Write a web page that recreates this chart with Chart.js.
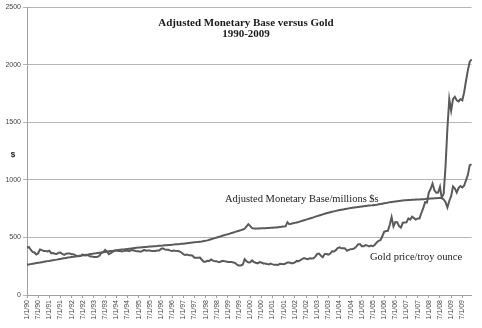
<!DOCTYPE html>
<html>
<head>
<meta charset="utf-8">
<script src="https://cdn.jsdelivr.net/npm/chart.js@4/dist/chart.umd.min.js"></script>
<style>
  body { margin: 0; background: #fff; }
  #wrap { width: 482px; height: 328px; }
</style>
</head>
<body>
<div id="wrap"><canvas id="goldChart"></canvas></div>
<script>
// monthly series, Jan 1990 .. Dec 2009
const years = ['90','91','92','93','94','95','96','97','98','99','00','01','02','03','04','05','06','07','08','09'];

const gold = [
  410, 417, 393, 374, 369, 352, 362, 395, 389, 381, 382, 378,
  384, 363, 364, 358, 357, 367, 368, 356, 349, 359, 360, 361,
  354, 354, 345, 338, 337, 341, 353, 343, 345, 344, 335, 334,
  329, 330, 331, 342, 367, 372, 392, 379, 355, 364, 374, 383,
  387, 382, 384, 378, 381, 386, 385, 380, 391, 389, 384, 379,
  379, 376, 382, 391, 385, 387, 386, 383, 383, 383, 386, 387,
  400, 405, 396, 393, 392, 385, 383, 387, 383, 381, 378, 369,
  355, 347, 352, 344, 344, 341, 324, 324, 323, 325, 306, 289,
  289, 297, 296, 308, 299, 292, 293, 284, 289, 296, 294, 291,
  287, 287, 286, 282, 277, 261, 256, 257, 265, 311, 293, 283,
  284, 300, 286, 280, 275, 286, 282, 274, 273, 270, 266, 272,
  266, 262, 263, 261, 272, 270, 268, 273, 283, 283, 276, 275,
  282, 296, 294, 302, 314, 321, 314, 310, 319, 317, 319, 333,
  357, 359, 340, 328, 355, 356, 351, 360, 379, 378, 389, 407,
  414, 405, 406, 404, 384, 392, 398, 400, 405, 420, 439, 442,
  424, 423, 434, 429, 422, 430, 424, 437, 456, 470, 476, 510,
  549, 555, 557, 610, 676, 596, 633, 632, 598, 585, 627, 629,
  631, 665, 654, 679, 667, 655, 665, 665, 712, 754, 806, 803,
  889, 922, 968, 909, 888, 890, 939, 839, 829, 806, 760, 816,
  858, 943, 924, 890, 928, 946, 934, 949, 996, 1043, 1127, 1134
];

const base = [
  262, 265, 268, 271, 274, 277, 279, 282, 285, 288, 291, 294,
  296, 299, 302, 305, 307, 310, 313, 316, 319, 322, 325, 327,
  330, 332, 335, 337, 340, 342, 345, 347, 350, 352, 355, 357,
  360, 362, 365, 367, 369, 372, 374, 376, 379, 381, 383, 386,
  388, 390, 392, 394, 396, 398, 400, 402, 404, 406, 408, 410,
  412, 413, 415, 416, 417, 419, 420, 421, 423, 424, 425, 427,
  428, 429, 431, 432, 434, 435, 437, 438, 440, 441, 442, 444,
  445, 447, 449, 451, 453, 455, 457, 459, 461, 463, 465, 468,
  470, 474, 479, 484, 489, 494, 499, 504, 509, 514, 519, 524,
  528, 533, 538, 543, 548, 553, 558, 563, 568, 575, 595, 615,
  598, 580, 577, 577, 578, 578, 579, 580, 580, 581, 582, 583,
  584, 585, 586, 588, 590, 592, 594, 596, 632, 615, 618, 622,
  626, 630, 634, 639, 644, 649, 654, 659, 664, 669, 674, 680,
  685, 690, 695, 700, 705, 710, 714, 718, 722, 726, 730, 734,
  737, 740, 743, 746, 749, 752, 755, 758, 760, 762, 764, 766,
  768, 770, 772, 774, 776, 778, 780, 782, 784, 787, 790, 793,
  796, 799, 802, 805, 808, 810, 812, 814, 816, 818, 820, 822,
  823, 824, 825, 826, 827, 828, 829, 830, 831, 832, 833, 835,
  836, 837, 838, 839, 840, 841, 842, 843, 880, 1120, 1450, 1700,
  1600, 1700, 1720, 1690, 1680, 1700, 1690, 1760, 1860, 1950, 2025, 2045
];

const labels = [];
years.forEach(yy => {
  for (let m = 1; m <= 12; m++) labels.push(m + '/1/' + yy);
});

const lineColor = '#5a5a5a';
const gridColor = '#b4b4b4';
const axisColor = '#a0a0a0';

// title, axis caption and series captions drawn straight on the canvas
const captions = {
  id: 'captions',
  afterDraw(chart) {
    const ctx = chart.ctx;
    ctx.save();
    ctx.fillStyle = '#1a1a1a';
    ctx.textBaseline = 'middle';
    ctx.textAlign = 'center';
    ctx.font = 'bold 11px "Liberation Serif", "DejaVu Serif", serif';
    ctx.fillText('Adjusted Monetary Base versus Gold', 246, 23);
    ctx.fillText('1990-2009', 246, 34);

    ctx.font = 'bold 8px "Liberation Sans", Arial, sans-serif';
    ctx.fillText('$', 13, 155);

    ctx.textAlign = 'left';
    ctx.font = '10.5px "Liberation Serif", "DejaVu Serif", serif';
    ctx.fillText('Adjusted Monetary Base/millions $s', 225, 199);
    ctx.fillText('Gold price/troy ounce', 370, 257);
    ctx.restore();
  }
};

const ctx = document.getElementById('goldChart').getContext('2d');
const chart = new Chart(ctx, {
  type: 'line',
  data: {
    labels: labels,
    datasets: [{
      label: 'Adjusted Monetary Base/millions $s',
      data: base,
      borderColor: lineColor,
      borderWidth: 2,
      pointRadius: 0,
      tension: 0
    }, {
      label: 'Gold price/troy ounce',
      data: gold,
      borderColor: lineColor,
      borderWidth: 2,
      pointRadius: 0,
      tension: 0
    }]
  },
  options: {
    responsive: true,
    maintainAspectRatio: false,
    animation: false,
    layout: { padding: { top: 7, right: 2, left: 0, bottom: 0 } },
    plugins: {
      legend: { display: false },
      tooltip: { enabled: false }
    },
    scales: {
      x: {
        afterFit: (scale) => { scale.height = 33; },
        grid: {
          drawOnChartArea: false,
          tickLength: 3,
          color: (c) => c.index % 6 === 0 ? axisColor : 'rgba(0,0,0,0)'
        },
        border: { color: axisColor },
        ticks: {
          autoSkip: false,
          minRotation: 90,
          maxRotation: 90,
          padding: 2,
          color: '#444',
          font: { family: '"Liberation Sans", Arial, sans-serif', size: 7 },
          callback: (v, i) => i % 6 === 0 ? labels[i] : ''
        }
      },
      y: {
        min: 0,
        max: 2500,
        afterFit: (scale) => { scale.width = 27; },
        grid: { color: gridColor, tickLength: 4 },
        border: { color: axisColor },
        ticks: {
          stepSize: 500,
          padding: 2,
          color: '#444',
          font: { family: '"Liberation Sans", Arial, sans-serif', size: 7 },
          callback: (v) => String(v)
        }
      }
    }
  },
  plugins: [captions]
});
</script>
</body>
</html>
